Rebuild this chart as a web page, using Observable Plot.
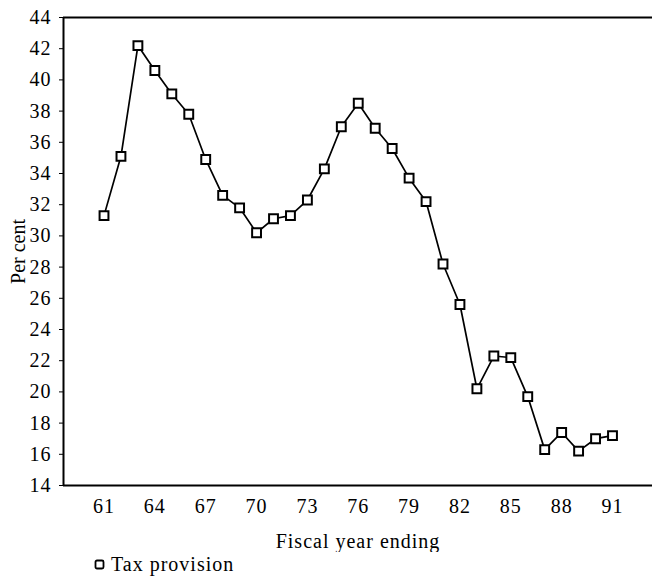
<!DOCTYPE html>
<html>
<head>
<meta charset="utf-8">
<script src="https://cdn.jsdelivr.net/npm/d3@7"></script>
<script src="https://cdn.jsdelivr.net/npm/@observablehq/plot@0.6"></script>
<style>
  html, body { margin: 0; padding: 0; background: #fff; }
  body { width: 652px; height: 576px; position: relative; overflow: hidden;
         font-family: "Liberation Serif", "Times New Roman", serif; color: #000; }
  #legend { position: absolute; left: 94px; top: 552px; font-size: 20px; line-height: 24px;
            letter-spacing: 1px; display: flex; align-items: center; gap: 6px; }
  #legend svg { display: block; }
  #chart svg { letter-spacing: 1px; }
  #chart svg g[aria-label="y-axis label"] { letter-spacing: 0; }
</style>
</head>
<body>
<div id="chart"></div>
<div id="legend"></div>
<script>
// Fiscal years (1961–1991)
const years = [1961, 1962, 1963, 1964, 1965, 1966, 1967, 1968, 1969, 1970,
               1971, 1972, 1973, 1974, 1975, 1976, 1977, 1978, 1979, 1980,
               1981, 1982, 1983, 1984, 1985, 1986, 1987, 1988, 1989, 1990, 1991];
// Tax provision, per cent
const taxProvision = [31.3, 35.1, 42.2, 40.6, 39.1, 37.8, 34.9, 32.6, 31.8, 30.2,
                      31.1, 31.3, 32.3, 34.3, 37.0, 38.5, 36.9, 35.6, 33.7, 32.2,
                      28.2, 25.6, 20.2, 22.3, 22.2, 19.7, 16.3, 17.4, 16.2, 17.0, 17.2];
const xTicks = [1961, 1964, 1967, 1970, 1973, 1976, 1979, 1982, 1985, 1988, 1991];
const yTicks = [14, 16, 18, 20, 22, 24, 26, 28, 30, 32, 34, 36, 38, 40, 42, 44];
const seriesName = "Tax provision";
const xTitle = "Fiscal year ending";
const yTitle = "Per cent";

const data = years.map((year, i) => ({year, value: taxProvision[i]}));
const xDomain = [1958.61, 1993.36];
const font = "'Liberation Serif', 'Times New Roman', serif";

const chart = Plot.plot({
  width: 652,
  height: 552,
  marginLeft: 63,
  marginRight: 0,
  marginTop: 17,
  marginBottom: 67,
  style: {fontFamily: font, fontSize: "20px", background: "white", color: "black"},
  x: {domain: xDomain},
  y: {domain: [14, 44]},
  marks: [
    Plot.ruleY([44, 14], {stroke: "black", strokeWidth: 2}),
    Plot.ruleX([xDomain[0]], {stroke: "black", strokeWidth: 2}),
    Plot.axisY({ticks: yTicks, tickSize: 4, tickPadding: 8, fontSize: 20,
                label: yTitle, labelAnchor: "center", labelOffset: 53, labelArrow: "none"}),
    Plot.axisX({ticks: xTicks, tickSize: 0, tickPadding: 13, fontSize: 20,
                tickFormat: d => String(d % 100).padStart(2, "0"),
                label: xTitle, labelAnchor: "center", labelOffset: 62, labelArrow: "none"}),
    Plot.line(data, {x: "year", y: "value", stroke: "black", strokeWidth: 1.7}),
    Plot.dot(data, {x: "year", y: "value", symbol: "square", r: 5,
                    stroke: "black", fill: "white", strokeWidth: 2})
  ]
});
document.getElementById("chart").appendChild(chart);

const legend = document.getElementById("legend");
legend.innerHTML = `<svg width="11" height="11"><rect x="1.5" y="1.5" width="8" height="8" rx="1.5"
  fill="white" stroke="black" stroke-width="1.8"/></svg><span></span>`;
legend.querySelector("span").textContent = seriesName;
</script>
</body>
</html>
